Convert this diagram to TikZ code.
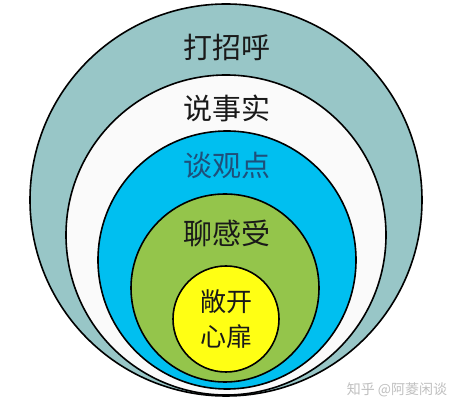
\documentclass[tikz,border=0pt]{standalone}
\usepackage{fontspec}
\setmainfont{Noto Sans CJK SC}
\usetikzlibrary{positioning}
\definecolor{ringteal}{HTML}{98C6C7}
\definecolor{ringwhite}{HTML}{FAFAFA}
\definecolor{ringcyan}{HTML}{00BFF0}
\definecolor{ringgreen}{HTML}{94C54B}
\definecolor{ringyellow}{HTML}{FFFF14}
\definecolor{labelblue}{HTML}{1E4F7A}
\tikzset{
x=1pt, y=-1pt,
ring/.style={circle, draw=black, line width=1.6pt, inner sep=0pt}, % every layer of the onion
layer text/.style={text=black!90, font=\fontsize{29}{32}\selectfont},
}
\begin{document}
\begin{tikzpicture}
\useasboundingbox (0,0) rectangle (456,411);
\fill[white] (0,0) rectangle (456,411);
\node[ring, fill=ringteal, minimum size=392pt] (greet) at (226,200) {};
\node[ring, fill=ringwhite, minimum size=320pt] (facts) at (226,235) {};
\node[ring, fill=ringcyan, minimum size=258pt] (views) at (227,260) {};
\node[ring, fill=ringgreen, minimum size=188pt] (feels) at (225,288) {};
\node[ring, fill=ringyellow, minimum size=106pt] (heart) at (226,319) {};
\node[layer text] (greet text) at (227,47) {打招呼};
\node[layer text] (facts text) at (227,108) {说事实};
\node[layer text, text=labelblue] (views text) at (227,165) {谈观点};
\node[layer text] (feels text) at (227,233) {聊感受};
\node[layer text, align=center, font=\fontsize{26}{35}\selectfont] (heart text) at (226,319) {敞开\\心扉};
\node[text=black!25, font=\fontsize{14}{16}\selectfont] (mark) at (397,390) {知乎 @阿菱闲谈};
\end{tikzpicture}
\end{document}
